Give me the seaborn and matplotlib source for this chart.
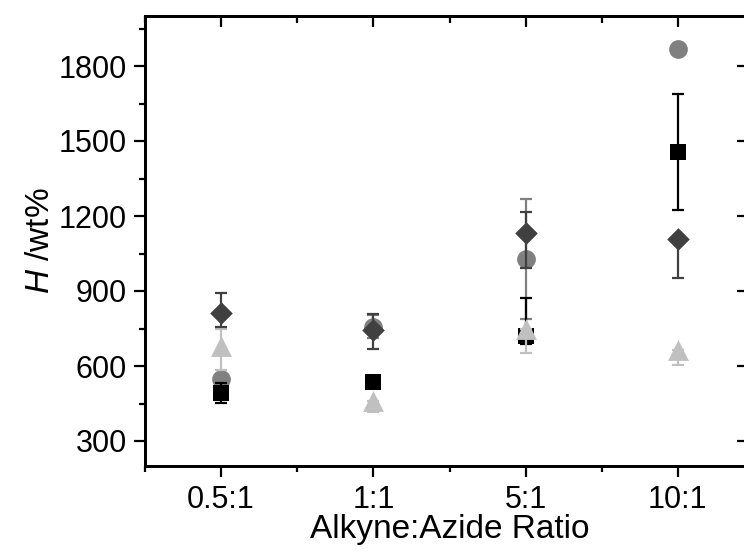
import matplotlib
matplotlib.use("Agg")
import matplotlib.pyplot as plt
from matplotlib.ticker import MultipleLocator, FixedLocator
import seaborn as sns
import pandas as pd
import numpy as np

ratios = ["0.5:1", "1:1", "5:1", "10:1"]

circle_vals = [548, 758, 1029, 1867]
circle_lo = [20, 45, 240, 0]
circle_hi = [20, 45, 240, 0]

square_vals = [494, 535, 720, 1457]
square_lo = [40, 15, 30, 232]
square_hi = [40, 15, 152, 232]

triangle_vals = [681, 462, 748, 665]
triangle_lo = [97, 45, 95, 60]
triangle_hi = [69, 0, 0, 0]

diamond_vals = [813, 745, 1131, 1110]
diamond_lo = [55, 78, 138, 159]
diamond_hi = [80, 65, 85, 0]

sns.set_style("ticks")
plt.rcParams['font.family'] = ['Liberation Sans', 'DejaVu Sans']
plt.rcParams['mathtext.fontset'] = 'custom'
plt.rcParams['mathtext.it'] = 'Liberation Sans:italic'
plt.rcParams['mathtext.rm'] = 'Liberation Sans'
plt.rcParams['axes.edgecolor'] = 'black'
plt.rcParams['xtick.color'] = 'black'
plt.rcParams['ytick.color'] = 'black'
plt.rcParams['text.color'] = 'black'
plt.rcParams['axes.labelcolor'] = 'black'

fig = plt.figure(figsize=(7.44, 5.54), dpi=100)
ax = fig.add_axes([145/744, 88/554, 609/744, 450/554])

series = [
    ("circle", circle_vals, circle_lo, circle_hi, "#808080", "o", 13.5),
    ("square", square_vals, square_lo, square_hi, "#000000", "s", 12),
    ("triangle", triangle_vals, triangle_lo, triangle_hi, "#c0c0c0", "^", 15),
    ("diamond", diamond_vals, diamond_lo, diamond_hi, "#404040", "D", 11.5),
]

x = np.arange(len(ratios))
z = 2
for name, vals, lo, hi, col, mk, ms in series:
    ax.errorbar(x, vals, yerr=[lo, hi], fmt="none", ecolor=col,
                elinewidth=1.6, capsize=4, capthick=1.6, zorder=z)
    df = pd.DataFrame({"pos": x, "val": vals})
    sns.scatterplot(data=df, x="pos", y="val", marker=mk, color=col,
                    s=(ms ** 2), linewidth=0, ax=ax, zorder=z + 1, legend=False)
    z += 2

ax.set_xlim(-0.5, 3.5)
ax.set_ylim(200, 2000)
ax.xaxis.set_major_locator(FixedLocator(x))
ax.set_xticklabels(ratios)
ax.xaxis.set_minor_locator(FixedLocator([-0.5, 0.5, 1.5, 2.5, 3.5]))
ax.yaxis.set_major_locator(FixedLocator([300, 600, 900, 1200, 1500, 1800]))
ax.yaxis.set_minor_locator(MultipleLocator(150))

for sp in ax.spines.values():
    sp.set_linewidth(1.9)
    sp.set_color("black")

ax.tick_params(axis="both", which="major", direction="out", length=8,
               width=1.6, labelsize=22, colors="black")
ax.tick_params(axis="x", which="major", pad=6)
ax.tick_params(axis="y", which="major", pad=5)
ax.tick_params(axis="both", which="minor", direction="out", length=4, width=1.6)
ax.tick_params(top=False, right=False)

axt = ax.twiny()
axt.set_xlim(ax.get_xlim())
axt.xaxis.set_major_locator(FixedLocator(x))
axt.xaxis.set_minor_locator(FixedLocator([-0.5, 0.5, 1.5, 2.5, 3.5]))
axt.tick_params(axis="x", which="major", direction="in", length=8, width=1.6, labeltop=False)
axt.tick_params(axis="x", which="minor", direction="in", length=5, width=1.6)
for sp in axt.spines.values():
    sp.set_linewidth(1.9)
    sp.set_color("black")

axr = ax.twinx()
axr.set_ylim(ax.get_ylim())
axr.yaxis.set_major_locator(FixedLocator([300, 600, 900, 1200, 1500, 1800]))
axr.yaxis.set_minor_locator(MultipleLocator(150))
axr.tick_params(axis="y", which="major", direction="in", length=12, width=1.6, labelright=False)
axr.tick_params(axis="y", which="minor", direction="in", length=5, width=1.6)
axr.set_ylabel("")
for sp in axr.spines.values():
    sp.set_linewidth(1.9)
    sp.set_color("black")

ax.set_xlabel("Alkyne:Azide Ratio", fontsize=24, labelpad=-1)
ax.set_ylabel(r"$\mathit{H}$ /wt%", fontsize=24, labelpad=2)

fig.savefig("out.png", dpi=100)
